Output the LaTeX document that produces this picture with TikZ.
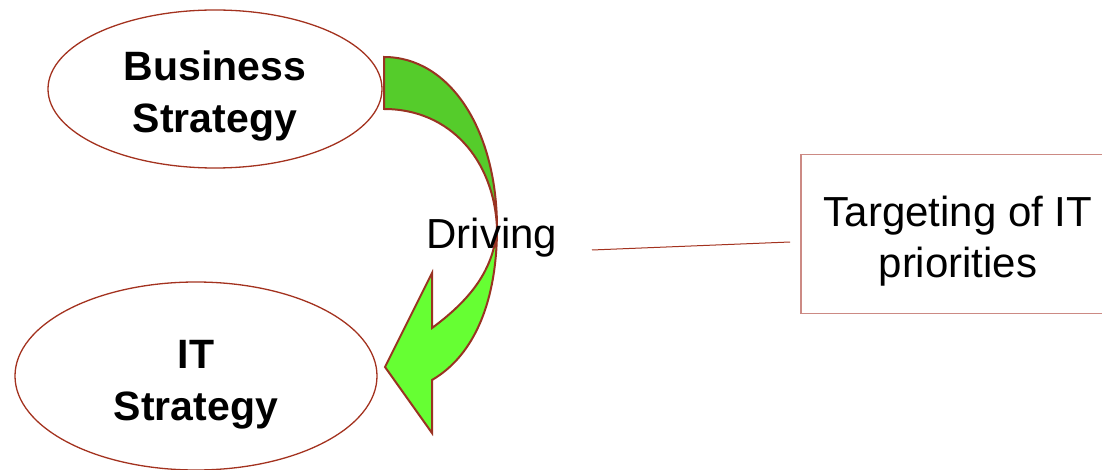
\documentclass[tikz,border=0pt]{standalone}
\usepackage{fontspec}
\setmainfont{Liberation Sans}
\usetikzlibrary{shapes.geometric}

\definecolor{rimred}{HTML}{A3321F}
\definecolor{boxrim}{HTML}{CC8A84}
\definecolor{arrowrim}{HTML}{993322}
\definecolor{darkgreen}{HTML}{55CC2B}
\definecolor{lightgreen}{HTML}{66FF33}

\tikzset{
  oval/.style={ellipse, draw=rimred, line width=1.3pt},
  ovaltext/.style={align=center, font=\fontsize{41}{52}\selectfont\bfseries},
  goalbox/.style={rectangle, draw=boxrim, line width=1.3pt,
    minimum width=314pt, minimum height=159pt},
  goaltext/.style={align=center, font=\fontsize{42}{51}\selectfont},
  drivelabel/.style={font=\fontsize{42}{50}\selectfont},
  link/.style={draw=rimred, line width=1pt},
  ribbon/.style={draw=arrowrim, line width=2pt, line join=miter}
}

\begin{document}
\begin{tikzpicture}[x=1pt, y=-1pt]
        \useasboundingbox (0,0) rectangle (1102,470);

        % ==== CURVED ARROW ====
        \filldraw[ribbon, fill=darkgreen] (384,57) .. controls (450,57) and (497,130) .. (497,228)
            .. controls (494,160) and (450,109) .. (384,109) -- cycle;
        \filldraw[ribbon, fill=lightgreen] (497,228) .. controls (497,300) and (475,355) .. (432,380)
            -- (432,433) -- (385,367) -- (432,273) -- (432,328)
            .. controls (470,300) and (494,270) .. (497,228) -- cycle;

        % ==== STRATEGIES ====
        \node[oval, minimum width=334pt, minimum height=158pt,
              label={[ovaltext, yshift=-7pt]center:{Business\\Strategy}}] (biz) at (215,89) {};
        \node[oval, minimum width=362pt, minimum height=188pt,
              label={[ovaltext, yshift=-9pt]center:{IT\\Strategy}}] (it) at (196,376) {};

        % ==== LABEL AND NOTE ====
        \node[drivelabel] (drive) at (492,238) {Driving};
        \node[goalbox, label={[goaltext, yshift=-7pt]center:{Targeting of IT\\priorities}}] (goal) at (958,234) {};

        % ==== CALLOUT LINE ====
        \coordinate (callA) at (592,250);
        \coordinate (callB) at (790,242);
        \draw[link] (callA) -- (callB);
\end{tikzpicture}
\end{document}
